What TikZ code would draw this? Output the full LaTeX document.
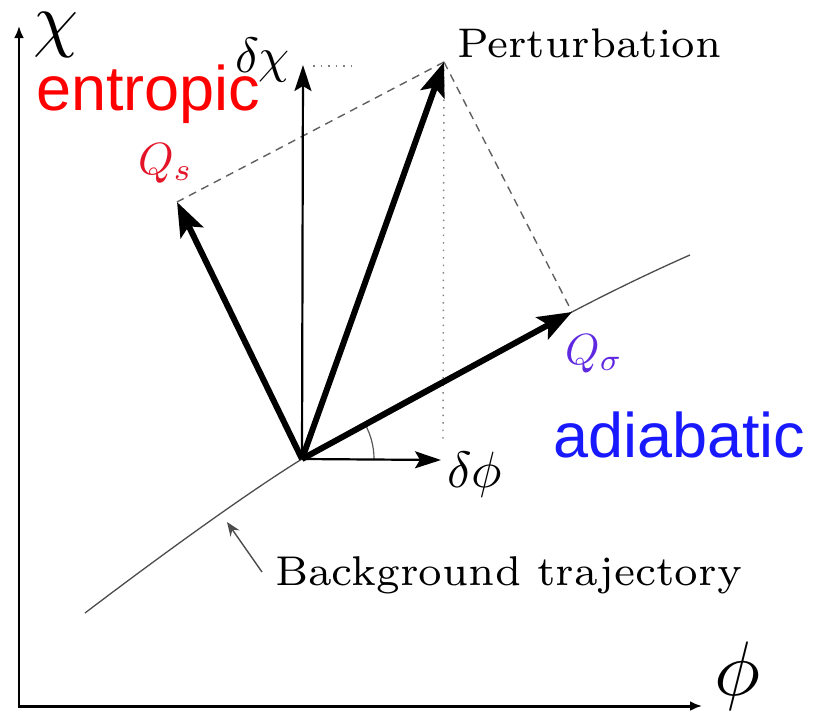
\documentclass[tikz,border=0pt]{standalone}
\usepackage{graphicx}
\usepackage{fontspec}
\newfontfamily\arialf{Liberation Sans}
\usetikzlibrary{arrows.meta}
\definecolor{qsred}{RGB}{228,20,40}
\definecolor{qsigpurple}{RGB}{95,40,225}
\definecolor{adblue}{RGB}{25,25,255}
\definecolor{entred}{RGB}{255,0,0}
\begin{document}
\begin{tikzpicture}[x=1pt,y=-1pt,
  thickarrow/.style={line width=6pt,-{Stealth[length=34pt,width=25pt,inset=7pt]}},
  thinarrow/.style={line width=2.2pt,-{Stealth[length=26pt,width=17pt,inset=5pt]}},
  axisline/.style={line width=2.6pt,-{Latex[length=12pt,width=10pt]}},
  guide/.style={gray!75!black,line width=1.4pt,dash pattern=on 8pt off 6pt},
  dotguide/.style={gray,line width=1.4pt,dash pattern=on 1.5pt off 6pt},
  traj/.style={gray!60!black,line width=1.3pt},
  lbl/.style={inner sep=0pt,outer sep=0pt,anchor=base west},
  bigword/.style={lbl,font=\arialf\fontsize{63}{63}\selectfont}]
\useasboundingbox (0,0) rectangle (813,712);
% key points
\coordinate (O) at (302,459);
\coordinate (P) at (444,62);
\coordinate (Qs) at (177,202);
\coordinate (Qsig) at (572,312);
\coordinate (dchi) at (303,65);
\coordinate (dphi) at (441,460);
\coordinate (corner) at (19,706);
\coordinate (ytip) at (19,26);
\coordinate (xtip) at (702,706);
\coordinate (trajA) at (85,613);
\coordinate (trajB) at (690,255);
\coordinate (ptrTail) at (262,572);
\coordinate (ptrTip) at (227,522);
\coordinate (dotH1) at (313,66);
\coordinate (dotH2) at (356,66);
\coordinate (dotV) at (443,440);
% axes
\draw[axisline] (corner) -- (ytip);
\draw[axisline,line width=3pt] ([xshift=-1.3pt]corner) -- (xtip);
% background trajectory
\draw[traj] plot[smooth,tension=0.6] coordinates {(trajA) (O) (Qsig) (trajB)};
\draw[traj,line width=1.4pt,-{Stealth[length=14pt,width=11pt]}] (ptrTail) -- (ptrTip);
% guide lines
\draw[guide] (P) -- (Qs);
\draw[guide] (P) -- (Qsig);
\draw[dotguide] (P) -- (dotV);
\draw[dotguide] (dotH1) -- (dotH2);
% angle arc
\draw[gray!70!black,line width=1.2pt] (O) ++(72,0) arc[start angle=0,end angle=-28.4,radius=72];
% arrows
\draw[thinarrow] (O) -- (dchi);
\draw[thinarrow] (O) -- (dphi);
\draw[thickarrow] (O) -- (Qs);
\draw[thickarrow] (O) -- (P);
\draw[thickarrow] (O) -- (Qsig);
% labels
\node[lbl] (chiLbl) at (33,43) {\resizebox{45pt}{!}{$\chi$}};
\node[lbl] (phiLbl) at (714,695) {\resizebox{46pt}{!}{$\phi$}};
\node[lbl] (dchiLbl) at (235,72) {\resizebox{55pt}{!}{$\delta\chi$}};
\node[lbl] (dphiLbl) at (447,487) {\resizebox{55pt}{!}{$\delta\phi$}};
\node[lbl,text=qsred] (QsLbl) at (138,174) {\resizebox{55pt}{!}{$Q_s$}};
\node[lbl,text=qsigpurple] (QsigLbl) at (565,364) {\resizebox{58pt}{!}{$Q_\sigma$}};
\node[lbl] (pertLbl) at (457,57) {\resizebox{264pt}{!}{\fontsize{7}{8}\selectfont Perturbation}};
\node[lbl] (bgLbl) at (275,585) {\resizebox{467pt}{!}{\fontsize{7}{8}\selectfont Background trajectory}};
\node[bigword,text=entred] (entLbl) at (36,110) {entropic};
\node[bigword,text=adblue] (adiLbl) at (553,457) {adiabatic};
\end{tikzpicture}
\end{document}
